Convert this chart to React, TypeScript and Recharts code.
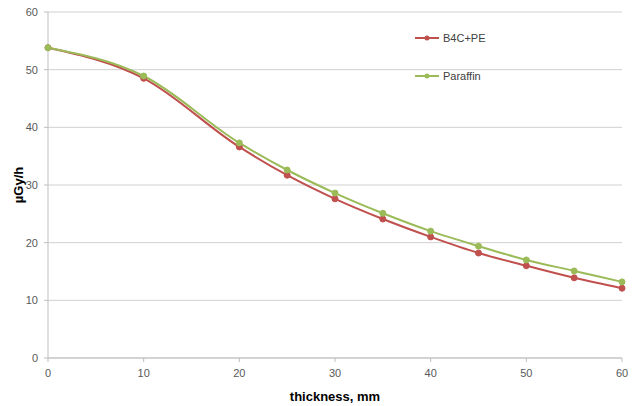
import { LineChart, Line, XAxis, YAxis, CartesianGrid, Legend } from 'recharts';

// dose rate vs shield thickness
const thickness = [0, 10, 20, 25, 30, 35, 40, 45, 50, 55, 60];
const b4cPe = [53.8, 48.5, 36.6, 31.7, 27.6, 24.1, 21.0, 18.2, 16.0, 13.9, 12.1];
const paraffin = [53.8, 48.9, 37.3, 32.6, 28.6, 25.1, 22.0, 19.4, 17.0, 15.1, 13.2];
const xTicks = [0, 10, 20, 30, 40, 50, 60];
const yTicks = [0, 10, 20, 30, 40, 50, 60];

const COLORS = {
  b4c: '#c0504d',
  paraffin: '#9bbb59',
  grid: '#d0d0d0',
  axis: '#bfbfbf',
  text: '#595959',
};

const FONT = '"Liberation Sans", Arial, sans-serif';

const data = thickness.map((t, i) => ({ t, b4c: b4cPe[i], paraffin: paraffin[i] }));

const legendItems = [
  { name: 'B4C+PE', color: COLORS.b4c },
  { name: 'Paraffin', color: COLORS.paraffin },
];

function LegendBox() {
  return (
    <div style={{ fontFamily: FONT, fontSize: 11, color: '#404040' }}>
      {legendItems.map((item, i) => (
        <div key={item.name} style={{ display: 'flex', alignItems: 'center', height: 14, marginTop: i ? 24 : 0 }}>
          <svg width={26} height={8} style={{ marginRight: 2 }}>
            <line x1={0} y1={4} x2={24} y2={4} stroke={item.color} strokeWidth={2} />
            <circle cx={12} cy={4} r={2.5} fill={item.color} />
          </svg>
          <span>{item.name}</span>
        </div>
      ))}
    </div>
  );
}

export default function App() {
  return (
    <div style={{ position: 'fixed', left: 0, top: 0, background: '#fff' }}>
      <LineChart
        width={638}
        height={406}
        data={data}
        margin={{ top: 12, right: 16, left: 0, bottom: 0 }}
        style={{ fontFamily: FONT }}
      >
        <CartesianGrid vertical={false} stroke={COLORS.grid} strokeWidth={1} />
        <XAxis
          dataKey="t"
          type="number"
          domain={[0, 60]}
          ticks={xTicks}
          height={48}
          stroke={COLORS.axis}
          tickSize={4}
          tickMargin={7}
          tick={{ fill: COLORS.text, fontSize: 11 }}
          label={{
            value: 'thickness, mm',
            position: 'insideBottom',
            offset: 5,
            fill: '#000',
            fontSize: 13,
            fontWeight: 'bold',
          }}
        />
        <YAxis
          domain={[0, 60]}
          ticks={yTicks}
          width={48}
          stroke={COLORS.axis}
          tickSize={4}
          tickMargin={6}
          tick={{ fill: COLORS.text, fontSize: 11 }}
          label={{
            value: 'µGy/h',
            angle: -90,
            position: 'center',
            dx: -6,
            fill: '#000',
            fontSize: 13,
            fontWeight: 'bold',
          }}
        />
        <Legend
          layout="vertical"
          verticalAlign="middle"
          align="center"
          wrapperStyle={{ left: 415, top: 31, width: 120 }}
          content={() => <LegendBox />}
        />
        <Line
          type="monotone"
          dataKey="b4c"
          name="B4C+PE"
          stroke={COLORS.b4c}
          strokeWidth={2}
          dot={{ r: 3, fill: COLORS.b4c, stroke: COLORS.b4c, strokeWidth: 1 }}
          isAnimationActive={false}
        />
        <Line
          type="monotone"
          dataKey="paraffin"
          name="Paraffin"
          stroke={COLORS.paraffin}
          strokeWidth={2}
          dot={{ r: 3, fill: COLORS.paraffin, stroke: COLORS.paraffin, strokeWidth: 1 }}
          isAnimationActive={false}
        />
      </LineChart>
    </div>
  );
}
